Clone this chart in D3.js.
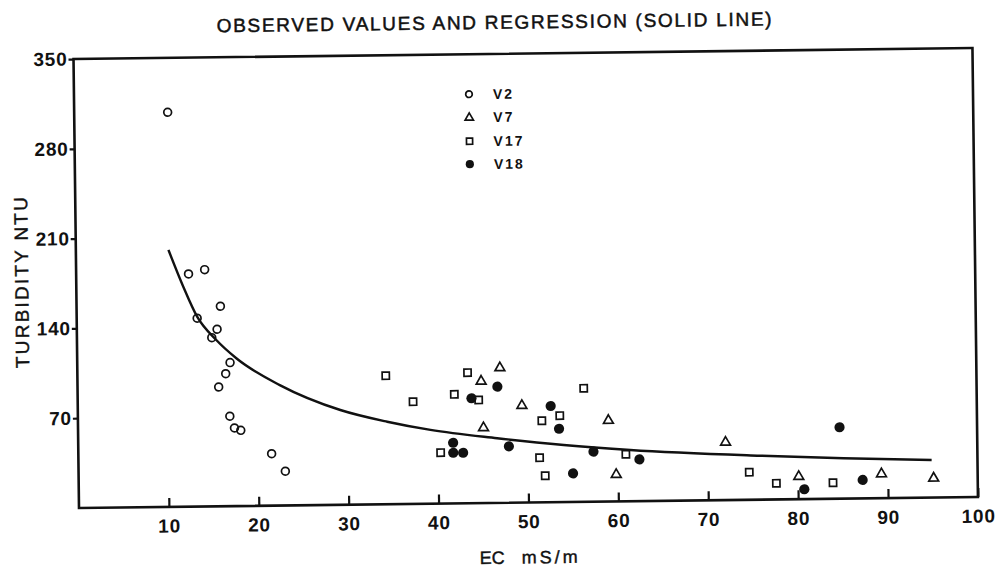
<!DOCTYPE html>
<html>
<head>
<meta charset="utf-8">
<script src="https://cdn.jsdelivr.net/npm/d3@7/dist/d3.min.js"></script>
<style>
  html, body { margin: 0; padding: 0; background: #fff; }
  svg { display: block; }
</style>
</head>
<body>
<svg id="chart" width="1002" height="570"></svg>
<script>
// ---- data ----
const titleText = "OBSERVED VALUES AND REGRESSION (SOLID LINE)";
const xLabelParts = ["EC", "mS/m"];
const yLabelText = "TURBIDITY NTU";

const xTicks = [10, 20, 30, 40, 50, 60, 70, 80, 90, 100];
const yTicks = [70, 140, 210, 280, 350];

const seriesNames = ["V2", "V7", "V17", "V18"];

const v2EC  = [10.4, 12.5, 14.3, 16.0, 13.4, 15.6, 15.0, 17.0, 16.5, 15.7, 16.9, 17.4, 18.1, 21.5, 23.0];
const v2NTU = [307.6, 181.4, 184.6, 155.9, 146.8, 138.0, 131.5, 111.9, 103.3, 93.0, 70.1, 60.9, 59.0, 40.5, 26.7];

const v7EC  = [47.0, 44.9, 49.4, 45.1, 59.0, 59.8, 72.0, 80.1, 89.3, 95.1];
const v7NTU = [105.7, 95.4, 76.1, 59.1, 63.6, 21.4, 45.5, 18.1, 19.4, 15.5];

const v17EC  = [34.3, 37.3, 43.4, 41.9, 44.6, 40.3, 56.3, 53.6, 51.6, 51.3, 51.9, 60.9, 74.6, 77.6, 83.9];
const v17NTU = [100.2, 79.7, 101.8, 85.0, 80.4, 39.7, 88.5, 67.4, 63.6, 34.8, 20.7, 36.7, 21.5, 12.6, 12.5];

const v18EC  = [46.7, 43.8, 52.6, 53.5, 41.7, 41.7, 42.8, 47.9, 57.3, 62.4, 55.0, 84.7, 87.2, 80.7];
const v18NTU = [90.6, 81.8, 75.0, 57.2, 47.3, 39.5, 39.4, 44.0, 39.0, 32.6, 22.3, 55.7, 14.4, 7.7];

// regression line, points
const regEC  = [10.3, 11.9, 13.4, 15.5, 17.7, 22.5, 29.2, 34.4, 39.2, 46.6, 54.0, 61.4, 75.8, 85.1, 94.9];
const regNTU = [200.3, 171.5, 148, 129.6, 115.2, 93.9, 73.9, 64.3, 57.5, 50.4, 44.5, 40.0, 34.3, 31.5, 29.3];

// ---- layout ----
const plotLeft = 79, plotBottom = 508, plotRight = 978, plotTop = 59;
const tilt = -0.7; // the scanned figure is slightly rotated

const svg = d3.select("#chart");
const g = svg.append("g").attr("transform", `rotate(${tilt},${plotLeft},${plotBottom})`);

const x = d3.scaleLinear().domain([0, 100]).range([plotLeft, plotRight]);
const y = d3.scaleLinear().domain([0, 350]).range([plotBottom, plotTop]);

const ink = "#111";
const font = "'Liberation Sans', Arial, Helvetica, sans-serif";

// title
g.append("text")
  .attr("x", 500).attr("y", 34)
  .attr("text-anchor", "middle")
  .attr("font-family", font).attr("font-size", 19)
  .attr("textLength", 555).attr("lengthAdjust", "spacing")
  .attr("fill", ink).attr("stroke", ink).attr("stroke-width", 0.5)
  .text(titleText);

// frame
g.append("rect")
  .attr("x", plotLeft).attr("y", plotTop)
  .attr("width", plotRight - plotLeft).attr("height", plotBottom - plotTop)
  .attr("fill", "none").attr("stroke", ink).attr("stroke-width", 2.6);

// axes
const xAxis = d3.axisBottom(x).tickValues(xTicks).tickSize(-9).tickSizeOuter(0).tickPadding(12).tickFormat(d3.format("d"));
const yAxis = d3.axisLeft(y).tickValues(yTicks).tickSize(5).tickSizeOuter(0).tickPadding(1).tickFormat(d3.format("d"));

const gx = g.append("g").attr("transform", `translate(0,${plotBottom})`).call(xAxis);
const gy = g.append("g").attr("transform", `translate(${plotLeft},0)`).call(yAxis);

[gx, gy].forEach(ax => {
  ax.select(".domain").remove();
  ax.selectAll(".tick line").attr("stroke", ink).attr("stroke-width", 2.2);
  ax.selectAll(".tick text")
    .attr("fill", ink)
    .attr("font-family", font)
    .attr("font-weight", "bold")
    .attr("font-size", 19)
    .attr("letter-spacing", 0.8);
});
gx.selectAll(".tick text").attr("dy", "0.72em");

// axis titles
g.append("text")
  .attr("transform", `translate(31,282) rotate(-90)`)
  .attr("text-anchor", "middle")
  .attr("font-family", font).attr("font-size", 19)
  .attr("textLength", 171).attr("lengthAdjust", "spacing")
  .attr("fill", ink).attr("stroke", ink).attr("stroke-width", 0.4)
  .text(yLabelText);

g.append("text")
  .attr("x", 479).attr("y", 569)
  .attr("font-family", font).attr("font-size", 18)
  .attr("fill", ink).attr("stroke", ink).attr("stroke-width", 0.4)
  .text(xLabelParts[0]);
g.append("text")
  .attr("x", 521).attr("y", 569)
  .attr("font-family", font).attr("font-size", 18)
  .attr("letter-spacing", 3)
  .attr("fill", ink).attr("stroke", ink).attr("stroke-width", 0.4)
  .text(xLabelParts[1]);

// regression line
const regPts = regEC.map((e, i) => [e, regNTU[i]]);
g.append("path")
  .datum(regPts)
  .attr("fill", "none")
  .attr("stroke", ink)
  .attr("stroke-width", 2.4)
  .attr("d", d3.line().x(d => x(d[0])).y(d => y(d[1])).curve(d3.curveMonotoneX));

// marker drawers
const triPath = s => {
  const h = s * 0.87;
  return `M0,${-h * 0.6}L${s / 2},${h * 0.4}L${-s / 2},${h * 0.4}Z`;
};
function drawMarker(sel, kind, scale) {
  const k = scale || 1;
  if (kind === "circle") {
    sel.append("circle").attr("r", 3.9 * k).attr("fill", "none").attr("stroke", ink).attr("stroke-width", 1.7);
  } else if (kind === "triangle") {
    sel.append("path").attr("d", triPath(9.8 * k)).attr("fill", "none").attr("stroke", ink).attr("stroke-width", 1.7).attr("stroke-linejoin", "miter");
  } else if (kind === "square") {
    const s = 7.2 * k;
    sel.append("rect").attr("x", -s / 2).attr("y", -s / 2).attr("width", s).attr("height", s).attr("fill", "none").attr("stroke", ink).attr("stroke-width", 1.7);
  } else {
    sel.append("circle").attr("r", 5.1 * k).attr("fill", ink);
  }
}

const series = [
  { name: seriesNames[0], kind: "circle",   ec: v2EC,  ntu: v2NTU },
  { name: seriesNames[1], kind: "triangle", ec: v7EC,  ntu: v7NTU },
  { name: seriesNames[2], kind: "square",   ec: v17EC, ntu: v17NTU },
  { name: seriesNames[3], kind: "filled",   ec: v18EC, ntu: v18NTU }
];

series.forEach(s => {
  const pts = s.ec.map((e, i) => [e, s.ntu[i]]);
  g.append("g").selectAll("g")
    .data(pts).join("g")
    .attr("transform", d => `translate(${x(d[0])},${y(d[1])})`)
    .each(function () { drawMarker(d3.select(this), s.kind, 1); });
});

// legend
const legendRowsY = [99, 122, 146, 169];
const legend = g.append("g");
series.forEach((s, i) => {
  const row = legend.append("g").attr("transform", `translate(474,${legendRowsY[i]})`);
  drawMarker(row, s.kind, s.kind === "filled" ? 0.8 : 0.85);
  row.append("text")
    .attr("x", 24).attr("y", 5)
    .attr("font-family", font).attr("font-weight", "bold").attr("font-size", 14)
    .attr("letter-spacing", 2)
    .attr("fill", ink)
    .text(s.name);
});
</script>
</body>
</html>
